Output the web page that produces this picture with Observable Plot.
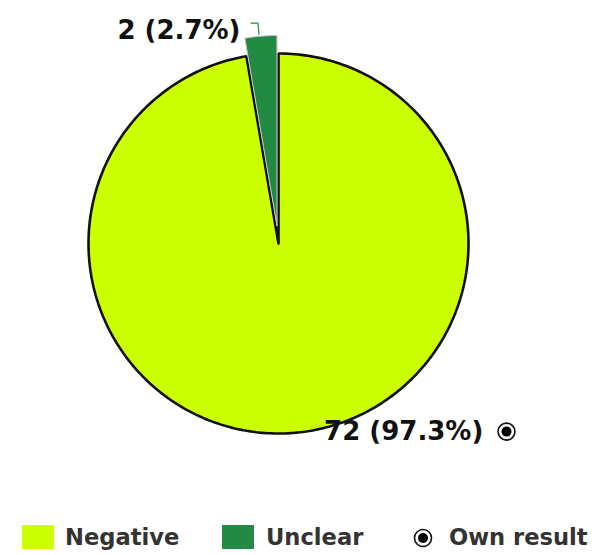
<!DOCTYPE html>
<html><head><meta charset="utf-8">
<script src="https://cdn.jsdelivr.net/npm/d3@7"></script>
<script src="https://cdn.jsdelivr.net/npm/@observablehq/plot@0.6"></script>
<style>
html,body{margin:0;padding:0;background:#fff;}
body{position:relative;width:601px;height:555px;overflow:hidden;font-family:"DejaVu Sans",sans-serif;}
#chart svg{display:block;}
.leg{position:absolute;top:525px;height:24px;display:flex;align-items:center;font-weight:bold;font-size:22.6px;color:#333;}
.sw{position:absolute;top:525px;width:32px;height:24px;}
</style></head><body>
<div id="chart"></div>
<script>
// ---- data ----
const categories = ["Negative", "Unclear"];
const counts = [72, 2];
const colors = ["#ccff00", "#238a43"];
const ownResult = "Negative";
const legendLabels = ["Negative", "Unclear", "Own result"];

// ---- layout (pixels / unit coords) ----
const W = 601, H = 510;
const cx = 278, cy = 243, R = 190;       // pie centre and radius in px
const explode = {Unclear: 0.095};         // explode offset in radius units
const labelPos = {                        // label anchors in radius units
  Negative: {x: 0.24, y: -0.99, anchor: "start"},
  Unclear: {x: -0.2, y: 1.12, anchor: "end"}
};

const total = d3.sum(counts);
let cum = 0;
const slices = categories.map((c, i) => {
  const a0 = cum / total * 2 * Math.PI;
  cum += counts[i];
  const a1 = cum / total * 2 * Math.PI;
  return {cat: c, count: counts[i], color: colors[i], a0, a1, pct: counts[i] / total * 100};
});

function polyFor(s) {
  const mid = (s.a0 + s.a1) / 2;
  const off = explode[s.cat] || 0;
  const ox = off * Math.sin(mid), oy = off * Math.cos(mid);
  const pts = [{x: ox, y: oy}];
  const n = Math.max(4, Math.ceil((s.a1 - s.a0) / (Math.PI / 180)));
  for (let k = 0; k <= n; k++) {
    const a = s.a0 + (s.a1 - s.a0) * k / n;
    pts.push({x: ox + Math.sin(a), y: oy + Math.cos(a)});
  }
  pts.push({x: ox, y: oy});
  return pts;
}

const xDomain = [-cx / R, (W - cx) / R];
const yDomain = [-(H - cy) / R, cy / R];

const marks = [];
slices.forEach(s => {
  const isMain = s.cat === "Negative";
  marks.push(Plot.line(polyFor(s), {
    x: "x", y: "y", fill: s.color,
    stroke: isMain ? "#111" : "#c8c8c8",
    strokeWidth: isMain ? 2.6 : 1, strokeLinejoin: "miter"
  }));
});

// labels
const labels = slices.map(s => ({
  cat: s.cat,
  text: `${s.count} (${s.pct.toFixed(1)}%)`,
  x: labelPos[s.cat].x, y: labelPos[s.cat].y, anchor: labelPos[s.cat].anchor
}));
labels.forEach(l => {
  marks.push(Plot.text([l], {
    x: "x", y: "y", text: "text", textAnchor: l.anchor,
    fontSize: 26, fontWeight: "bold", fill: "#111",
    fontFamily: "DejaVu Sans"
  }));
});

// leader line for small exploded slice
const small = slices.find(s => s.cat === "Unclear");
{
  const mid = (small.a0 + small.a1) / 2;
  const rr = 1 + explode.Unclear;
  const p0 = {x: rr * Math.sin(mid) - 0.01, y: rr * Math.cos(mid) + 0.01};
  const p1 = {x: p0.x - 0.005, y: labelPos.Unclear.y + 0.04};
  const p2 = {x: labelPos.Unclear.x + 0.055, y: p1.y};
  marks.push(Plot.line([p0, p1, p2], {x: "x", y: "y", stroke: small.color, strokeWidth: 1.2}));
}

// own-result marker after the label of its category
const ownLab = labels.find(l => l.cat === ownResult);
const ownMarker = [{x: ownLab.x + 0.96, y: ownLab.y}];
marks.push(Plot.dot(ownMarker, {x: "x", y: "y", r: 8.5, stroke: "#111", strokeWidth: 1.6, fill: "white"}));
marks.push(Plot.dot(ownMarker, {x: "x", y: "y", r: 5, fill: "#000", stroke: "none"}));

const chart = Plot.plot({
  width: W, height: H,
  margin: 0,
  x: {domain: xDomain, axis: null},
  y: {domain: yDomain, axis: null},
  style: {background: "#fff", overflow: "visible"},
  marks
});
document.getElementById("chart").appendChild(chart);

// legend (HTML, below the SVG)
const body = document.body;
function add(html) { const d = document.createElement("div"); d.innerHTML = html; body.appendChild(d.firstChild); }
const legendX = [{sw: 22, tx: 65}, {sw: 222, tx: 266}, {sw: 411, tx: 449}];
legendLabels.forEach((lab, i) => {
  const pos = legendX[i];
  if (i < 2) {
    add(`<div class="sw" style="left:${pos.sw}px;background:${colors[i]}"></div>`);
  } else {
    add(`<svg style="position:absolute;left:${pos.sw}px;top:526px" width="24" height="24"><circle cx="12" cy="12" r="8.5" fill="white" stroke="#111" stroke-width="1.6"/><circle cx="12" cy="12" r="5" fill="#000"/></svg>`);
  }
  add(`<div class="leg" style="left:${pos.tx}px">${lab}</div>`);
});
</script>
</body></html>
